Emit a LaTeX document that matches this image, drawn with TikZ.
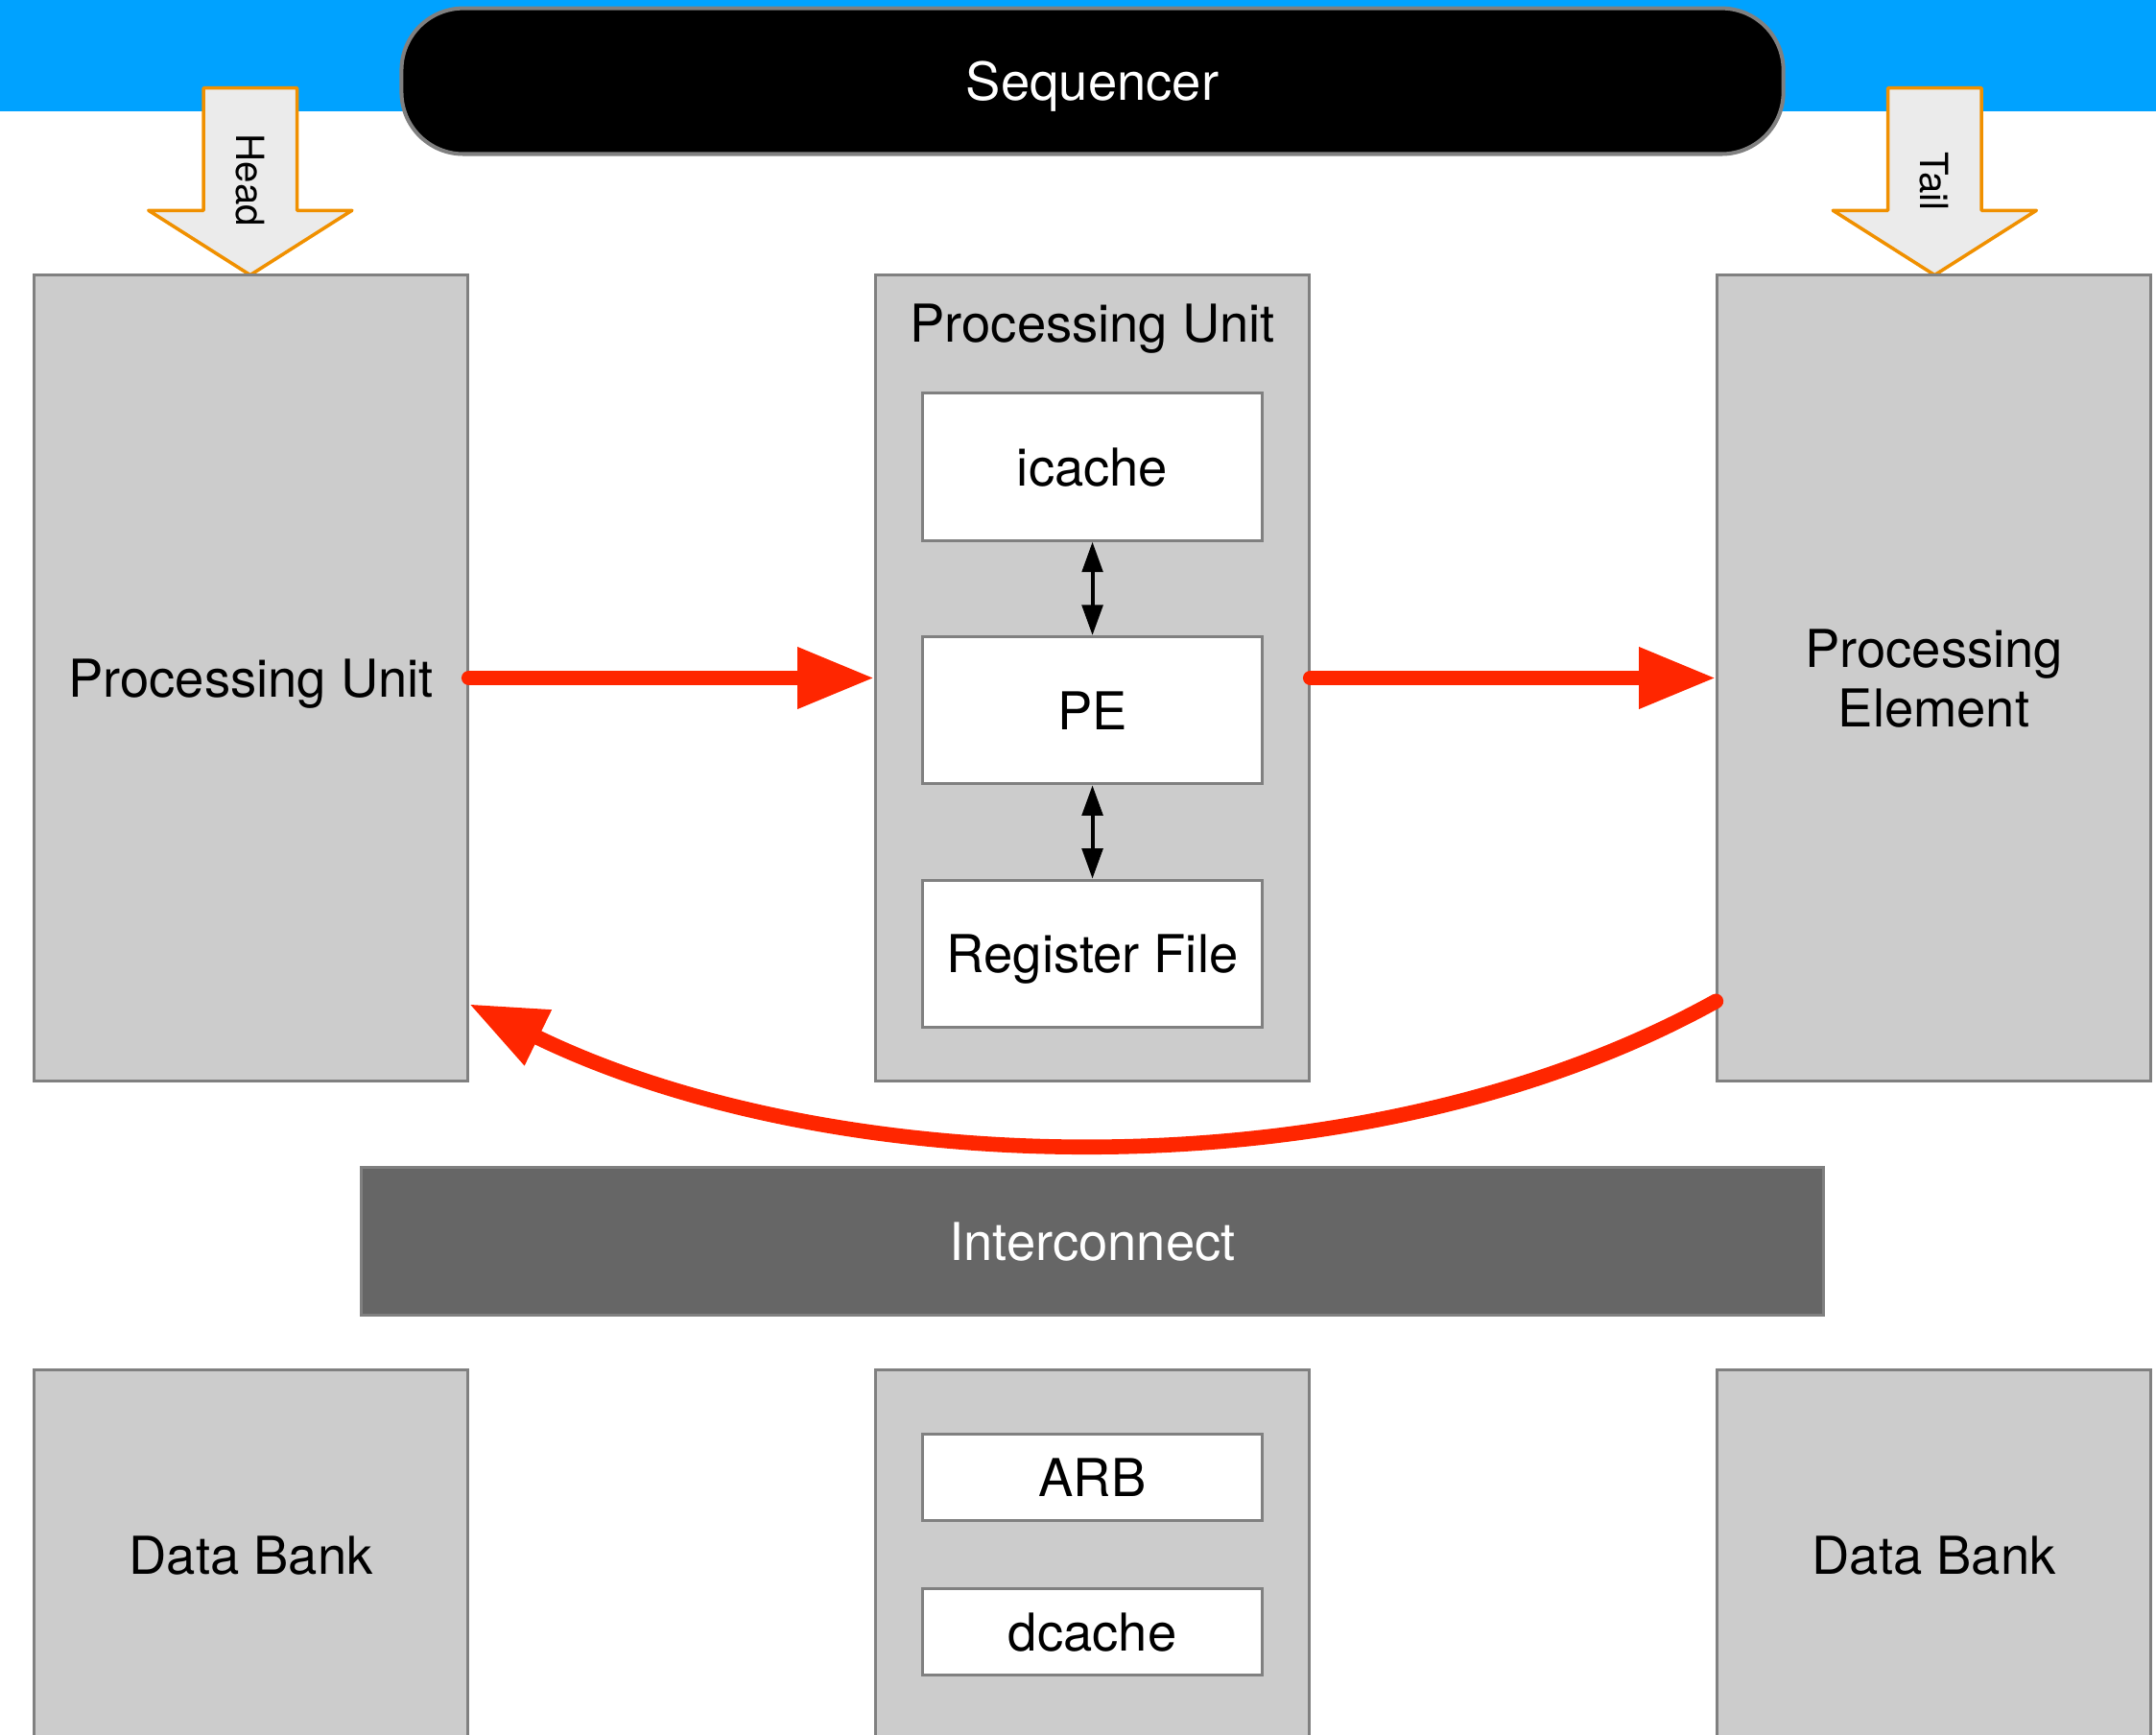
\documentclass[tikz,border=0pt]{standalone}
\usepackage{fontspec}
\setmainfont{TeX Gyre Heros}
\usetikzlibrary{arrows.meta}
\definecolor{seqblue}{RGB}{0,162,255}
\definecolor{flowred}{RGB}{255,38,0}
\definecolor{markorange}{RGB}{240,144,0}
\definecolor{markfill}{RGB}{235,235,235}
\definecolor{boxgray}{RGB}{204,204,204}
\definecolor{edgegray}{RGB}{128,128,128}
\definecolor{busgray}{RGB}{102,102,102}

\begin{document}
\begin{tikzpicture}[every node/.style={font=\fontsize{10.8}{12.2}\selectfont, text depth=0pt},
  unit/.style={rectangle, draw=edgegray, fill=boxgray, line width=0.6pt, minimum width=3.15cm, minimum height=5.86cm, align=center},
  cell/.style={rectangle, draw=edgegray, fill=white, line width=0.6pt, minimum width=2.47cm, minimum height=1.07cm},
  flow/.style={draw=flowred, line width=3.1pt, line cap=round, -{Triangle[length=5.6mm, width=4.2mm]}},
  link/.style={line width=0.8pt, {Triangle[length=2.2mm, width=1.5mm]}-{Triangle[length=2.2mm, width=1.5mm]}},
  marker/.style={draw=markorange, fill=markfill, line width=0.7pt, line join=round}]

  \useasboundingbox (0,0) rectangle (15.68,-12.61);
  \clip (0,0) rectangle (15.68,-12.61);

  % Sequencer
  \fill[seqblue] (0,0) rectangle (15.68,-0.81);
  \node (seq) at (7.945,-0.59) [rectangle, rounded corners=0.45cm, draw=edgegray, fill=black, text=white, line width=0.8pt, minimum width=10.05cm, minimum height=1.06cm] {Sequencer};

  % Head / Tail
  \draw[marker] (1.48,-0.64) -- (2.16,-0.64) -- (2.16,-1.53) -- (2.56,-1.53) -- (1.82,-2.00) -- (1.08,-1.53) -- (1.48,-1.53) -- cycle;
  \node (head) at (1.82,-1.31) [rotate=-90, font=\fontsize{8}{9.6}\selectfont] {Head};
  \draw[marker] (13.73,-0.64) -- (14.41,-0.64) -- (14.41,-1.53) -- (14.81,-1.53) -- (14.07,-2.00) -- (13.33,-1.53) -- (13.73,-1.53) -- cycle;
  \node (tail) at (14.07,-1.32) [rotate=-90, font=\fontsize{8}{9.6}\selectfont] {Tail};

  % processing row
  \node (pul) at (1.825,-4.93) [unit] {Processing Unit};
  \node (puc) at (7.945,-4.93) [unit] {};
  \node (per) at (14.065,-4.93) [unit] {Processing\\Element};
  \node (putitle) at (7.945,-2.35) {Processing Unit};
  \node (icache) at (7.945,-3.395) [cell] {icache};
  \node (core) at (7.945,-5.165) [cell] {PE};
  \node (regs) at (7.945,-6.935) [cell] {Register File};
  \draw[link] (icache) -- (core);
  \draw[link] (core) -- (regs);

  % ring
  \draw[flow] (pul.east) -- (puc.west);
  \draw[flow] (puc.east) -- (per.west);
  \draw[flow] ([yshift=0.59cm]per.south west) to[out=209, in=-26, looseness=0.83] ([yshift=0.57cm]pul.south east);

  % Interconnect
  \node (bus) at (7.945,-9.025) [rectangle, draw=edgegray, fill=busgray, text=white, line width=0.6pt, minimum width=10.63cm, minimum height=1.07cm] {Interconnect};

  % memory row
  \node (bankl) at (1.825,-11.31) [unit, minimum height=2.70cm] {Data Bank};
  \node (mem) at (7.945,-11.31) [unit, minimum height=2.70cm] {};
  \node (bankr) at (14.065,-11.31) [unit, minimum height=2.70cm] {Data Bank};
  \node (arb) at (7.945,-10.745) [cell, minimum height=0.63cm] {ARB};
  \node (dcache) at (7.945,-11.865) [cell, minimum height=0.63cm] {dcache};

\end{tikzpicture}
\end{document}
